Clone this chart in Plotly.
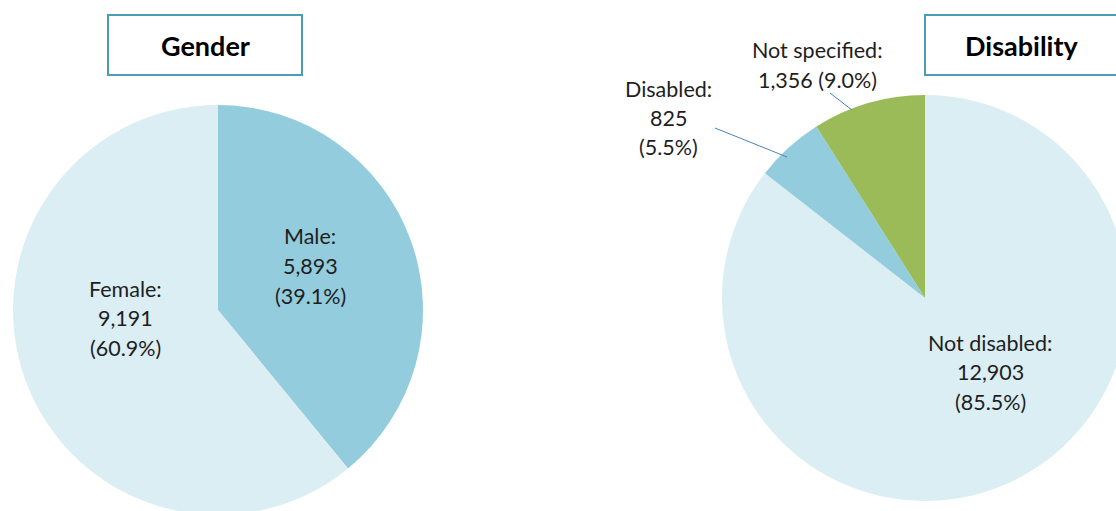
import plotly.graph_objects as go

# ---- data ----
gender_labels = ["Male", "Female"]
gender_values = [5893, 9191]
gender_colors = ["#93CDDD", "#DBEEF4"]

dis_labels = ["Not disabled", "Disabled", "Not specified"]
dis_values = [12903, 825, 1356]
dis_colors = ["#DBEEF4", "#93CDDD", "#9BBB59"]

titles = ["Gender", "Disability"]

# ---- layout constants (pixels) ----
W, H = 1130, 518
FONT = "Lato"
LBL_SIZE = 21.5
LINE_GAP = 29.5


def px_x(x):
    return x / W


def px_y(y):
    return 1 - y / H


def pie_domain(cx, cy, r):
    return dict(x=[px_x(cx - r), px_x(cx + r)], y=[px_y(cy + r), px_y(cy - r)])


def pct(v, vals):
    return f"({100 * v / sum(vals):.1f}%)"


fig = go.Figure()
fig.add_trace(go.Pie(
    labels=gender_labels, values=gender_values, sort=False, direction="clockwise",
    rotation=0, marker=dict(colors=gender_colors, line=dict(width=0)),
    textinfo="none", hoverinfo="label+value+percent", showlegend=False,
    domain=pie_domain(218, 310, 205)))
fig.add_trace(go.Pie(
    labels=dis_labels, values=dis_values, sort=False, direction="clockwise",
    rotation=0, marker=dict(colors=dis_colors, line=dict(width=0)),
    textinfo="none", hoverinfo="label+value+percent", showlegend=False,
    domain=pie_domain(925, 298, 203)))

annotations = []


def add_label(lines, cx, cy):
    n = len(lines)
    for i, t in enumerate(lines):
        y = cy + (i - (n - 1) / 2) * LINE_GAP
        annotations.append(dict(
            x=px_x(cx), y=px_y(y), xref="paper", yref="paper", text=t,
            showarrow=False, xanchor="center", yanchor="middle",
            font=dict(family=FONT, size=LBL_SIZE, color="#1E1E1E")))


# gender labels
add_label([f"{gender_labels[0]}:", f"{gender_values[0]:,}", pct(gender_values[0], gender_values)], 310, 266)
add_label([f"{gender_labels[1]}:", f"{gender_values[1]:,}", pct(gender_values[1], gender_values)], 125, 318)
# disability labels
add_label([f"{dis_labels[0]}:", f"{dis_values[0]:,}", pct(dis_values[0], dis_values)], 990, 372)
add_label([f"{dis_labels[1]}:", f"{dis_values[1]:,}", pct(dis_values[1], dis_values)], 668, 118)
add_label([f"{dis_labels[2]}:", f"{dis_values[2]:,} " + pct(dis_values[2], dis_values)], 818, 65)

# titles
annotations.append(dict(x=px_x(205), y=px_y(45), xref="paper", yref="paper", text=f"<b>{titles[0]}</b>",
                        showarrow=False, xanchor="center", yanchor="middle",
                        font=dict(family=FONT, size=27, color="#000000")))
annotations.append(dict(x=px_x(1022), y=px_y(45), xref="paper", yref="paper", text=f"<b>{titles[1]}</b>",
                        showarrow=False, xanchor="center", yanchor="middle",
                        font=dict(family=FONT, size=27, color="#000000")))

shapes = [
    dict(type="rect", xref="paper", yref="paper", x0=px_x(108), x1=px_x(302), y0=px_y(75), y1=px_y(15),
         line=dict(color="#4A9DB5", width=2), fillcolor="rgba(0,0,0,0)"),
    dict(type="rect", xref="paper", yref="paper", x0=px_x(925), x1=px_x(1124), y0=px_y(75), y1=px_y(15),
         line=dict(color="#4A9DB5", width=2), fillcolor="rgba(0,0,0,0)"),
    # leader lines
    dict(type="line", xref="paper", yref="paper", x0=px_x(715), y0=px_y(128), x1=px_x(787), y1=px_y(157),
         line=dict(color="#4F81BD", width=1)),
    dict(type="line", xref="paper", yref="paper", x0=px_x(830), y0=px_y(93), x1=px_x(852), y1=px_y(110),
         line=dict(color="#4F81BD", width=1)),
]

fig.update_layout(
    width=W, height=H, margin=dict(l=0, r=0, t=0, b=0),
    paper_bgcolor="white", plot_bgcolor="white",
    annotations=annotations, shapes=shapes, showlegend=False,
)

fig.write_html("out.html", config={"displayModeBar": False},
               post_script="document.body.style.overflow='hidden';document.documentElement.style.overflow='hidden';document.body.style.margin='0';")
